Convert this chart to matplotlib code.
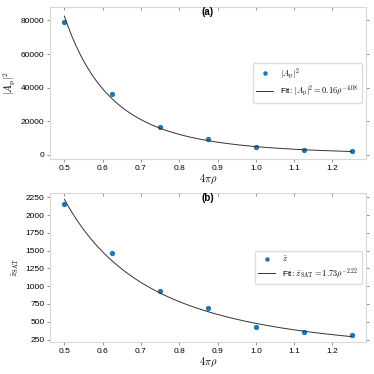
import matplotlib
matplotlib.use("Agg")
import matplotlib.pyplot as plt
import numpy as np

# valori
x_vals = [0.5, 0.625, 0.75, 0.875, 1.0, 1.125, 1.25]
amp_vals = [79000, 36000, 16800, 9200, 4500, 3100, 2200]
z_vals = [2160, 1470, 930, 690, 420, 360, 315]

# parametri dei fit (legge di potenza in rho = x / 4pi)
fit_a = (0.16, -4.08)
fit_b = (1.73, -2.22)

plt.rcParams['mathtext.fontset'] = 'cm'
plt.rcParams['font.family'] = ['Liberation Sans', 'DejaVu Sans']
plt.rcParams['font.size'] = 6

fig = plt.figure(figsize=(3.74, 3.74), dpi=100)
ax1 = fig.add_axes([50/374, 1 - 159/374, 316/374, 152/374])
ax2 = fig.add_axes([50/374, 1 - 342/374, 316/374, 149/374])

xf = np.linspace(0.5, 1.25, 200)
rho = xf / (4 * np.pi)


def style(ax):
    for s in ax.spines.values():
        s.set_color('#d8d8d8')
        s.set_linewidth(0.8)
    ax.tick_params(direction='out', length=2, color='#666666', labelsize=6,
                   width=0.5, pad=2)
    ax.tick_params(top=True, right=True)
    for t in ax.xaxis.get_ticklines()[1::2]:
        t.set_marker(3)  # tick in alto rivolto verso l'interno
    ax.set_xlim(0.4625, 1.2875)
    ax.set_xticks([0.5, 0.6, 0.7, 0.8, 0.9, 1.0, 1.1, 1.2])
    ax.set_xlabel(r'$4\pi\rho$', fontsize=7.5, labelpad=1)


def add_legend(ax):
    ax.legend(loc='center right', fontsize=6, frameon=True, edgecolor='#dddddd',
              handlelength=2.1, borderpad=0.4, labelspacing=0.35,
              markerscale=0.8, framealpha=1, fancybox=True)


ax1.plot(x_vals, amp_vals, 'o', color='#1f77b4', markersize=2.8, label=r'$|A_{\rm p}|^2$')
ax1.plot(xf, fit_a[0] * rho ** fit_a[1], color='#333333', lw=0.7,
         label=r'Fit: $|A_{\rm p}|^2 = 0.16\rho^{-4.08}$')
style(ax1)
ax1.set_ylim(-2500, 88000)
ax1.set_yticks([0, 20000, 40000, 60000, 80000])
ax1.set_ylabel(r'$|A_{\rm p}|^2$', fontsize=7.5, labelpad=3)
ax1.text(0.5, 0.965, '(a)', transform=ax1.transAxes, ha='center', va='center',
         fontweight='bold', fontsize=7)
add_legend(ax1)

ax2.plot(x_vals, z_vals, 'o', color='#1f77b4', markersize=2.8, label=r'$\bar{z}$')
ax2.plot(xf, fit_b[0] * rho ** fit_b[1], color='#333333', lw=0.7,
         label=r'Fit: $\bar{z}_{\rm SAT} = 1.73\rho^{-2.22}$')
style(ax2)
ax2.set_ylim(215, 2310)
ax2.set_yticks([250, 500, 750, 1000, 1250, 1500, 1750, 2000, 2250])
ax2.set_ylabel(r'$\bar{z}_{\rm SAT}$', fontsize=6.5, labelpad=3)
ax2.text(0.5, 0.965, '(b)', transform=ax2.transAxes, ha='center', va='center',
         fontweight='bold', fontsize=7)
add_legend(ax2)

fig.savefig('out.png', dpi=100)
